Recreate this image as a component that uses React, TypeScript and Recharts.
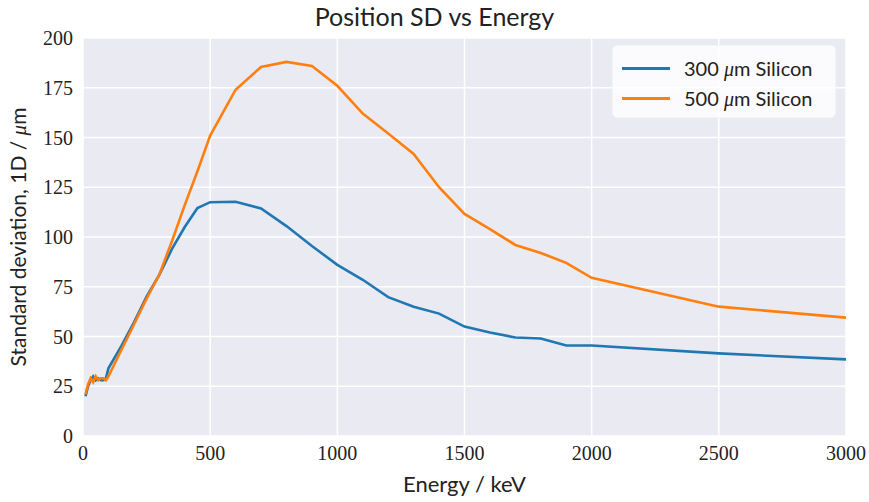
import React from 'react';
import { LineChart, Line, XAxis, YAxis, CartesianGrid } from 'recharts';

const energies = [10, 20, 30, 40, 50, 60, 70, 80, 90, 100, 150, 200, 250, 300, 350, 400, 450, 500, 600, 700, 800, 900, 1000, 1100, 1200, 1300, 1400, 1500, 1600, 1700, 1800, 1900, 2000, 2500, 3000];
const sd300 = [20, 25, 28, 30, 28, 29, 28, 28, 29, 34, 45, 57, 70, 81, 94, 105, 114.5, 117.5, 117.7, 114.3, 105.5, 95.5, 86, 78.5, 69.8, 65, 61.5, 55, 52, 49.5, 49, 45.5, 45.5, 41.5, 38.5];
const sd500 = [21, 26, 29, 27, 30, 28, 29, 29, 28, 30, 43, 56, 69, 81, 98, 116, 133, 151, 174, 185.4, 188, 186, 176, 162, 152, 141.7, 125, 111.6, 104, 96, 92, 87, 79.5, 65, 59.5];
const xTicks = [0, 500, 1000, 1500, 2000, 2500, 3000];
const yTicks = [0, 25, 50, 75, 100, 125, 150, 175, 200];

const data = energies.map((e, i) => ({ energy: e, si300: sd300[i], si500: sd500[i] }));

const tickFont = { fontFamily: 'Liberation Serif', fontSize: 20, fill: '#222' };
const labelFont = 'Lato';

const LegendBox = () => (
  <div style={{
    position: 'absolute', left: 612, top: 45,
    background: 'rgba(255,255,255,0.8)', borderRadius: 5, border: '1px solid #f4f4f8',
    width: 224, height: 73, boxSizing: 'border-box', padding: '7px 0 0 9px',
    fontFamily: labelFont, fontSize: 20, color: '#222',
  }}>
    {[['#1f77b4', '300'], ['#ff7f0e', '500']].map(([c, t]) => (
      <div key={t} style={{ display: 'flex', alignItems: 'center', height: 30 }}>
        <span style={{ display: 'inline-block', width: 48, height: 3, background: c, marginRight: 14 }} />
        <span>{t} <i style={{ fontFamily: 'Liberation Serif' }}>μ</i>m Silicon</span>
      </div>
    ))}
  </div>
);

export default function App() {
  return (
    <div style={{ position: 'absolute', left: 0, top: 0, width: 869, height: 502, background: '#fff' }}>
      <div style={{ position: 'absolute', top: 1, width: 869, textAlign: 'center', fontFamily: labelFont, fontSize: 25, color: '#222', zIndex: 1 }}>
        Position SD vs Energy
      </div>
      <LineChart width={869} height={502} data={data} margin={{ top: 38, right: 23, left: 0, bottom: 0 }}>
        <CartesianGrid fill="#eaeaf2" stroke="#ffffff" strokeWidth={1.5} />
        <XAxis
          dataKey="energy" type="number" domain={[0, 3000]} ticks={xTicks} height={66}
          axisLine={false} tickLine={false} tick={tickFont} tickMargin={4}
          label={{ value: 'Energy / keV', position: 'insideBottom', offset: 10, style: { fontFamily: labelFont, fontSize: 22, fill: '#222' } }}
        />
        <YAxis
          type="number" domain={[0, 200]} ticks={yTicks} width={83}
          axisLine={false} tickLine={false} tick={tickFont} tickMargin={4}
          label={({ viewBox }: any) => (
            <text x={26} y={viewBox.y + viewBox.height / 2} transform={`rotate(-90 26 ${viewBox.y + viewBox.height / 2})`}
              textAnchor="middle" style={{ fontFamily: labelFont, fontSize: 21, fill: '#222' }}>
              Standard deviation, 1D / <tspan fontStyle="italic" fontFamily="Liberation Serif">μ</tspan>m
            </text>
          )}
        />
        <Line dataKey="si300" stroke="#1f77b4" strokeWidth={2.6} dot={false} isAnimationActive={false} />
        <Line dataKey="si500" stroke="#ff7f0e" strokeWidth={2.6} dot={false} isAnimationActive={false} />
      </LineChart>
      <LegendBox />
    </div>
  );
}
